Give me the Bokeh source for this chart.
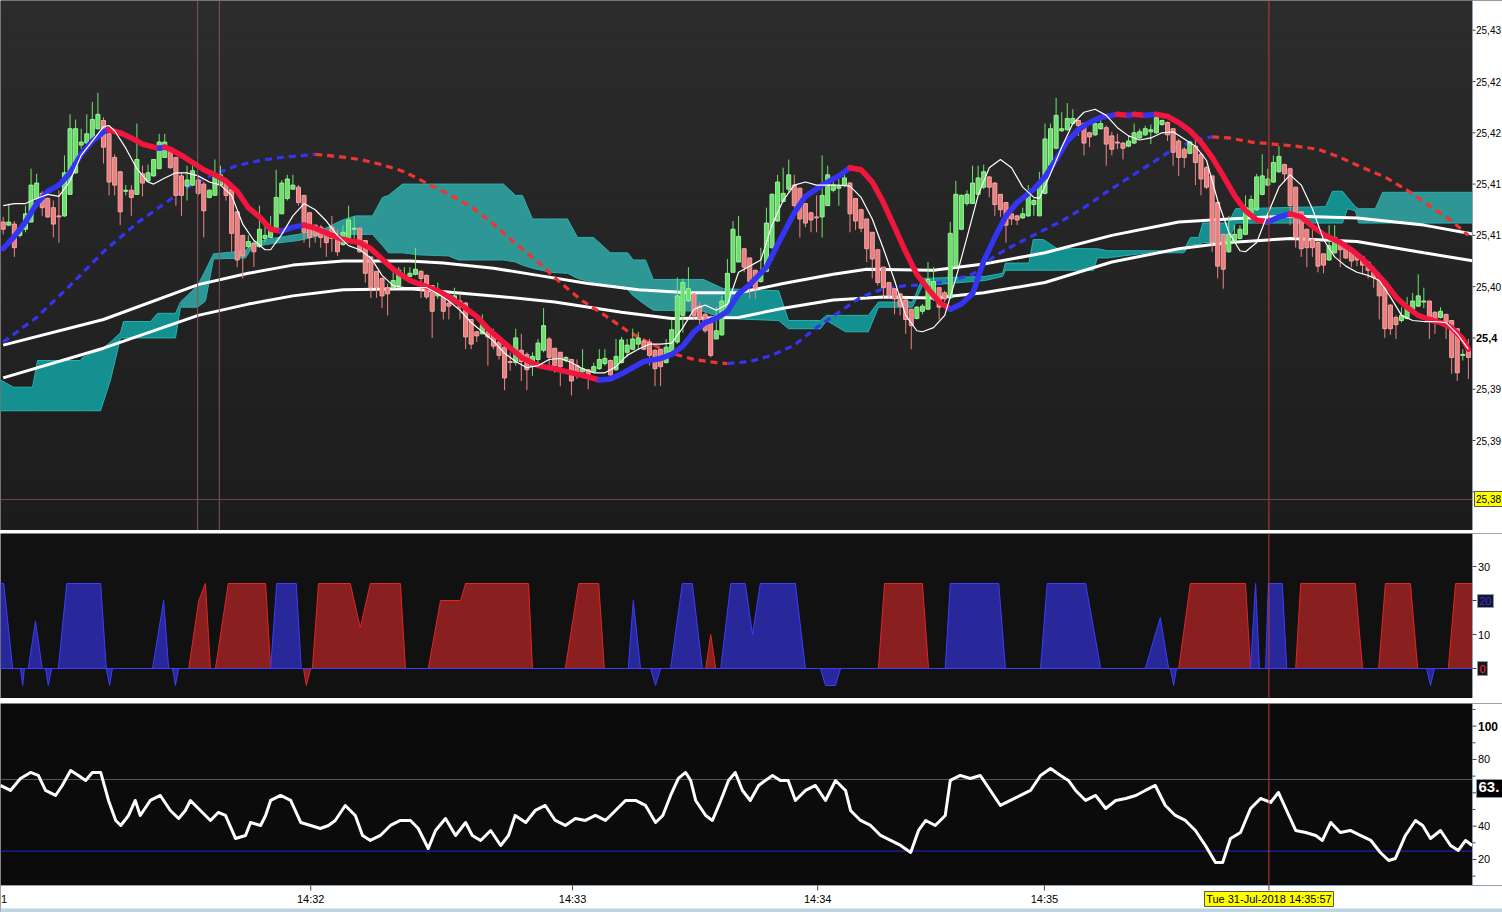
import numpy as np
from bokeh.plotting import figure
from bokeh.models import Range1d, BoxAnnotation
from bokeh.layouts import column
from bokeh.embed import file_html
from bokeh.resources import INLINE
from bokeh.core.properties import value

# ---------------- price bars (one per bar index) ----------------
bar_open = [
 25.4113, 25.4110, 25.4111, 25.4100, 25.4106, 25.4113, 25.4136, 25.4141, 25.4136, 25.4127,
 25.4119, 25.4119, 25.4140, 25.4161, 25.4188, 25.4190, 25.4191, 25.4204, 25.4212, 25.4199,
 25.4176, 25.4162, 25.4143, 25.4144, 25.4140, 25.4160, 25.4153, 25.4158, 25.4165, 25.4176,
 25.4183, 25.4176, 25.4158, 25.4148, 25.4149, 25.4154, 25.4150, 25.4137, 25.4139, 25.4149,
 25.4152, 25.4145, 25.4123, 25.4100, 25.4089, 25.4092, 25.4089, 25.4097, 25.4098, 25.4106,
 25.4121, 25.4136, 25.4145, 25.4147, 25.4139, 25.4122, 25.4110, 25.4108, 25.4100, 25.4108,
 25.4098, 25.4091, 25.4097, 25.4106, 25.4107, 25.4095, 25.4079, 25.4065, 25.4058, 25.4049,
 25.4049, 25.4051, 25.4059, 25.4060, 25.4062, 25.4065, 25.4061, 25.4051, 25.4041, 25.4044,
 25.4034, 25.4035, 25.4036, 25.4034, 25.4018, 25.4006, 25.4004, 25.4006, 25.4004, 25.3996,
 25.3991, 25.3977, 25.3976, 25.3988, 25.3984, 25.3973, 25.3979, 25.3988, 25.3999, 25.3990,
 25.3986, 25.3978, 25.3979, 25.3973, 25.3967, 25.3969, 25.3967, 25.3970, 25.3975, 25.3978,
 25.3969, 25.3976, 25.3986, 25.3989, 25.3994, 25.3997, 25.3996, 25.3988, 25.3989, 25.3976,
 25.3986, 25.3996, 25.4022, 25.4036, 25.4043, 25.4031, 25.4023, 25.4018, 25.3999, 25.4003,
 25.4029, 25.4064, 25.4074, 25.4087, 25.4078, 25.4066, 25.4055, 25.4065, 25.4088, 25.4114,
 25.4133, 25.4145, 25.4149, 25.4146, 25.4131, 25.4122, 25.4118, 25.4118, 25.4129, 25.4144,
 25.4146, 25.4149, 25.4151, 25.4136, 25.4125, 25.4116, 25.4103, 25.4086, 25.4069, 25.4054,
 25.4048, 25.4043, 25.4037, 25.4028, 25.4019, 25.4026, 25.4028, 25.4038, 25.4049, 25.4044,
 25.4039, 25.4070, 25.4106, 25.4131, 25.4131, 25.4140, 25.4147, 25.4157, 25.4151, 25.4140,
 25.4132, 25.4121, 25.4119, 25.4117, 25.4119, 25.4130, 25.4119, 25.4141, 25.4168, 25.4185,
 25.4202, 25.4203, 25.4209, 25.4212, 25.4209, 25.4200, 25.4198, 25.4204, 25.4205, 25.4197,
 25.4191, 25.4190, 25.4187, 25.4190, 25.4195, 25.4198, 25.4201, 25.4200, 25.4208, 25.4210,
 25.4204, 25.4192, 25.4184, 25.4180, 25.4187, 25.4179, 25.4166, 25.4158, 25.4132, 25.4101,
 25.4084, 25.4094, 25.4097, 25.4101, 25.4119, 25.4125, 25.4140, 25.4149, 25.4152, 25.4162,
 25.4169, 25.4165, 25.4147, 25.4123, 25.4106, 25.4096, 25.4093, 25.4082, 25.4076, 25.4083,
 25.4092, 25.4090, 25.4084, 25.4081, 25.4079, 25.4074, 25.4066, 25.4059, 25.4050, 25.4032,
 25.4020, 25.4017, 25.4019, 25.4028, 25.4031, 25.4035, 25.4036, 25.4025, 25.4020, 25.4023,
 25.4017, 25.4009, 25.3983, 25.3988]

bar_high = [
 25.4118, 25.4131, 25.4114, 25.4109, 25.4129, 25.4165, 25.4160, 25.4143, 25.4137, 25.4134,
 25.4144, 25.4178, 25.4218, 25.4213, 25.4204, 25.4218, 25.4230, 25.4239, 25.4215, 25.4204,
 25.4179, 25.4162, 25.4149, 25.4149, 25.4209, 25.4168, 25.4169, 25.4174, 25.4199, 25.4199,
 25.4186, 25.4176, 25.4161, 25.4168, 25.4168, 25.4158, 25.4152, 25.4145, 25.4174, 25.4168,
 25.4153, 25.4149, 25.4124, 25.4100, 25.4100, 25.4092, 25.4129, 25.4110, 25.4119, 25.4164,
 25.4154, 25.4159, 25.4159, 25.4149, 25.4139, 25.4123, 25.4110, 25.4110, 25.4106, 25.4119,
 25.4106, 25.4110, 25.4129, 25.4118, 25.4107, 25.4095, 25.4079, 25.4065, 25.4059, 25.4053,
 25.4064, 25.4069, 25.4069, 25.4069, 25.4088, 25.4066, 25.4062, 25.4051, 25.4054, 25.4044,
 25.4038, 25.4049, 25.4043, 25.4035, 25.4018, 25.4007, 25.4023, 25.4009, 25.4009, 25.3999,
 25.3992, 25.3986, 25.4009, 25.4004, 25.3986, 25.3986, 25.3999, 25.4029, 25.4001, 25.3990,
 25.3986, 25.3982, 25.3979, 25.3979, 25.3989, 25.3969, 25.3976, 25.3989, 25.3989, 25.3979,
 25.3999, 25.4001, 25.3999, 25.4009, 25.4006, 25.3999, 25.3999, 25.3989, 25.3989, 25.3999,
 25.4018, 25.4059, 25.4058, 25.4069, 25.4044, 25.4035, 25.4025, 25.4022, 25.4030, 25.4041,
 25.4077, 25.4114, 25.4119, 25.4087, 25.4078, 25.4066, 25.4088, 25.4127, 25.4141, 25.4159,
 25.4166, 25.4174, 25.4159, 25.4146, 25.4131, 25.4123, 25.4139, 25.4178, 25.4168, 25.4153,
 25.4155, 25.4160, 25.4152, 25.4136, 25.4126, 25.4116, 25.4103, 25.4087, 25.4069, 25.4054,
 25.4048, 25.4043, 25.4038, 25.4028, 25.4031, 25.4033, 25.4074, 25.4069, 25.4049, 25.4046,
 25.4113, 25.4153, 25.4140, 25.4144, 25.4168, 25.4168, 25.4169, 25.4158, 25.4152, 25.4140,
 25.4132, 25.4123, 25.4120, 25.4127, 25.4149, 25.4136, 25.4162, 25.4209, 25.4209, 25.4234,
 25.4220, 25.4229, 25.4223, 25.4213, 25.4210, 25.4201, 25.4210, 25.4213, 25.4207, 25.4201,
 25.4199, 25.4191, 25.4197, 25.4209, 25.4204, 25.4207, 25.4208, 25.4218, 25.4213, 25.4211,
 25.4204, 25.4194, 25.4186, 25.4192, 25.4194, 25.4181, 25.4168, 25.4158, 25.4133, 25.4101,
 25.4119, 25.4110, 25.4110, 25.4139, 25.4139, 25.4160, 25.4179, 25.4165, 25.4178, 25.4187,
 25.4170, 25.4166, 25.4147, 25.4123, 25.4106, 25.4106, 25.4093, 25.4082, 25.4110, 25.4110,
 25.4096, 25.4093, 25.4085, 25.4082, 25.4080, 25.4074, 25.4070, 25.4061, 25.4051, 25.4033,
 25.4022, 25.4030, 25.4040, 25.4044, 25.4062, 25.4049, 25.4036, 25.4026, 25.4030, 25.4023,
 25.4017, 25.4009, 25.3989, 25.3999]

bar_low = [
 25.4101, 25.4109, 25.4079, 25.4098, 25.4103, 25.4113, 25.4132, 25.4119, 25.4117, 25.4098,
 25.4093, 25.4118, 25.4140, 25.4160, 25.4184, 25.4188, 25.4191, 25.4203, 25.4170, 25.4139,
 25.4139, 25.4110, 25.4139, 25.4119, 25.4140, 25.4138, 25.4152, 25.4157, 25.4165, 25.4176,
 25.4165, 25.4129, 25.4119, 25.4134, 25.4148, 25.4139, 25.4098, 25.4136, 25.4139, 25.4149,
 25.4134, 25.4084, 25.4069, 25.4058, 25.4088, 25.4069, 25.4088, 25.4093, 25.4098, 25.4105,
 25.4121, 25.4134, 25.4145, 25.4129, 25.4093, 25.4088, 25.4093, 25.4088, 25.4079, 25.4084,
 25.4080, 25.4090, 25.4097, 25.4097, 25.4083, 25.4054, 25.4039, 25.4039, 25.4029, 25.4022,
 25.4048, 25.4049, 25.4058, 25.4059, 25.4061, 25.4039, 25.4038, 25.4000, 25.4038, 25.4018,
 25.4018, 25.4033, 25.4018, 25.3989, 25.3989, 25.3996, 25.4004, 25.3973, 25.3989, 25.3979,
 25.3949, 25.3968, 25.3973, 25.3958, 25.3949, 25.3963, 25.3973, 25.3986, 25.3973, 25.3966,
 25.3953, 25.3976, 25.3944, 25.3960, 25.3966, 25.3950, 25.3966, 25.3969, 25.3973, 25.3963,
 25.3968, 25.3975, 25.3981, 25.3988, 25.3989, 25.3988, 25.3973, 25.3953, 25.3953, 25.3975,
 25.3984, 25.3994, 25.4005, 25.4035, 25.4018, 25.4012, 25.4005, 25.3981, 25.3999, 25.4002,
 25.4028, 25.4064, 25.4074, 25.4064, 25.4038, 25.4038, 25.4054, 25.4064, 25.4087, 25.4113,
 25.4132, 25.4142, 25.4127, 25.4098, 25.4108, 25.4103, 25.4103, 25.4098, 25.4129, 25.4142,
 25.4129, 25.4147, 25.4103, 25.4105, 25.4103, 25.4074, 25.4058, 25.4051, 25.4038, 25.4038,
 25.4023, 25.4022, 25.4004, 25.3989, 25.4018, 25.4023, 25.4028, 25.4036, 25.4018, 25.4035,
 25.4038, 25.4069, 25.4105, 25.4129, 25.4131, 25.4140, 25.4145, 25.4137, 25.4119, 25.4118,
 25.4093, 25.4110, 25.4110, 25.4116, 25.4118, 25.4119, 25.4119, 25.4140, 25.4166, 25.4184,
 25.4201, 25.4202, 25.4208, 25.4197, 25.4178, 25.4186, 25.4197, 25.4203, 25.4168, 25.4178,
 25.4184, 25.4174, 25.4186, 25.4189, 25.4194, 25.4197, 25.4189, 25.4199, 25.4207, 25.4192,
 25.4168, 25.4158, 25.4166, 25.4179, 25.4149, 25.4139, 25.4145, 25.4084, 25.4058, 25.4048,
 25.4083, 25.4093, 25.4096, 25.4100, 25.4118, 25.4124, 25.4139, 25.4148, 25.4151, 25.4161,
 25.4152, 25.4110, 25.4088, 25.4079, 25.4069, 25.4079, 25.4064, 25.4063, 25.4075, 25.4082,
 25.4069, 25.4077, 25.4069, 25.4070, 25.4062, 25.4058, 25.4049, 25.4018, 25.4000, 25.4003,
 25.3999, 25.4015, 25.4018, 25.4027, 25.4030, 25.4029, 25.3999, 25.4004, 25.4019, 25.3999,
 25.3965, 25.3958, 25.3978, 25.3960]

bar_close = [
 25.4106, 25.4113, 25.4088, 25.4106, 25.4121, 25.4149, 25.4151, 25.4127, 25.4118, 25.4111,
 25.4118, 25.4161, 25.4204, 25.4204, 25.4191, 25.4199, 25.4213, 25.4218, 25.4186, 25.4152,
 25.4149, 25.4123, 25.4144, 25.4137, 25.4174, 25.4151, 25.4161, 25.4174, 25.4191, 25.4191,
 25.4166, 25.4139, 25.4139, 25.4154, 25.4163, 25.4141, 25.4124, 25.4144, 25.4157, 25.4159,
 25.4139, 25.4102, 25.4076, 25.4080, 25.4094, 25.4084, 25.4106, 25.4100, 25.4108, 25.4137,
 25.4151, 25.4155, 25.4149, 25.4132, 25.4103, 25.4098, 25.4100, 25.4098, 25.4093, 25.4097,
 25.4084, 25.4103, 25.4115, 25.4107, 25.4084, 25.4063, 25.4049, 25.4049, 25.4041, 25.4043,
 25.4056, 25.4066, 25.4061, 25.4063, 25.4067, 25.4058, 25.4040, 25.4026, 25.4045, 25.4026,
 25.4031, 25.4041, 25.4030, 25.4001, 25.3994, 25.4002, 25.4013, 25.4001, 25.3992, 25.3983,
 25.3961, 25.3976, 25.4000, 25.3977, 25.3969, 25.3982, 25.3995, 25.4012, 25.3981, 25.3973,
 25.3972, 25.3981, 25.3958, 25.3966, 25.3970, 25.3963, 25.3972, 25.3979, 25.3980, 25.3964,
 25.3982, 25.3998, 25.3993, 25.3999, 25.4000, 25.3989, 25.3983, 25.3970, 25.3972, 25.3991,
 25.4008, 25.4041, 25.4054, 25.4048, 25.4022, 25.4018, 25.4007, 25.3983, 25.4007, 25.4036,
 25.4063, 25.4106, 25.4099, 25.4069, 25.4055, 25.4048, 25.4062, 25.4112, 25.4140, 25.4152,
 25.4141, 25.4159, 25.4129, 25.4116, 25.4112, 25.4115, 25.4117, 25.4139, 25.4159, 25.4149,
 25.4148, 25.4156, 25.4121, 25.4114, 25.4107, 25.4087, 25.4077, 25.4054, 25.4049, 25.4041,
 25.4038, 25.4031, 25.4018, 25.4012, 25.4030, 25.4031, 25.4057, 25.4055, 25.4030, 25.4038,
 25.4102, 25.4140, 25.4139, 25.4140, 25.4151, 25.4156, 25.4162, 25.4147, 25.4130, 25.4125,
 25.4110, 25.4116, 25.4115, 25.4121, 25.4140, 25.4134, 25.4152, 25.4194, 25.4204, 25.4217,
 25.4204, 25.4214, 25.4214, 25.4207, 25.4190, 25.4196, 25.4209, 25.4209, 25.4189, 25.4184,
 25.4190, 25.4185, 25.4192, 25.4200, 25.4201, 25.4204, 25.4203, 25.4215, 25.4212, 25.4198,
 25.4181, 25.4176, 25.4176, 25.4191, 25.4171, 25.4155, 25.4147, 25.4093, 25.4070, 25.4067,
 25.4101, 25.4101, 25.4106, 25.4127, 25.4135, 25.4157, 25.4158, 25.4155, 25.4171, 25.4177,
 25.4160, 25.4129, 25.4098, 25.4087, 25.4088, 25.4088, 25.4070, 25.4071, 25.4090, 25.4098,
 25.4086, 25.4078, 25.4075, 25.4076, 25.4071, 25.4066, 25.4059, 25.4041, 25.4009, 25.4009,
 25.4013, 25.4022, 25.4031, 25.4036, 25.4041, 25.4036, 25.4017, 25.4017, 25.4026, 25.4015,
 25.3981, 25.3966, 25.3984, 25.3981]

# ---------------- indicator lines (bar index, value) ----------------
trend_k = [0, 2, 4, 6, 8, 10, 12, 14, 16, 18, 19, 21, 23, 25, 27, 28, 29, 30, 32, 34,
           36, 38, 40, 42, 44, 46, 48, 50, 52, 54, 56, 59, 61, 64, 66, 68, 70, 73, 75, 78,
           80, 82, 85, 87, 90, 93, 96, 99, 102, 105, 107, 109, 111, 113, 115, 118, 120, 122, 124, 126,
           128, 130, 132, 134, 137, 139, 142, 144, 147, 150, 152, 154, 156, 158, 160, 162, 164, 166, 168, 170,
           172, 174, 176, 178, 180, 182, 185, 187, 189, 191, 193, 195, 197, 199, 200, 202, 203, 205, 207, 209,
           211, 213, 215, 217, 219, 221, 223, 225, 227, 229, 231, 233, 235, 237, 240, 242, 244, 246, 248, 250,
           252, 254, 256, 258, 260, 262, 263]
trend_v = [25.4087, 25.4099, 25.4113, 25.4131, 25.4143, 25.4149, 25.4161, 25.4179, 25.4192, 25.4201,
           25.4203, 25.4200, 25.4195, 25.4189, 25.4186, 25.4185, 25.4186, 25.4184, 25.4178, 25.4171,
           25.4164, 25.4159, 25.4153, 25.4143, 25.4127, 25.4118, 25.4106, 25.4104, 25.4108, 25.4110,
           25.4107, 25.4100, 25.4096, 25.4093, 25.4087, 25.4077, 25.4067, 25.4056, 25.4052, 25.4046,
           25.4040, 25.4033, 25.4021, 25.4009, 25.3995, 25.3981, 25.3973, 25.3970, 25.3966, 25.3962,
           25.3959, 25.3960, 25.3965, 25.3971, 25.3977, 25.3980, 25.3984, 25.3992, 25.4006, 25.4015,
           25.4019, 25.4026, 25.4043, 25.4052, 25.4069, 25.4091, 25.4122, 25.4138, 25.4149, 25.4158,
           25.4166, 25.4164, 25.4152, 25.4132, 25.4108, 25.4084, 25.4062, 25.4048, 25.4035, 25.4028,
           25.4033, 25.4043, 25.4075, 25.4098, 25.4119, 25.4132, 25.4145, 25.4157, 25.4174, 25.4192,
           25.4203, 25.4210, 25.4215, 25.4217, 25.4218, 25.4217, 25.4218, 25.4217, 25.4218, 25.4216,
           25.4210, 25.4202, 25.4191, 25.4176, 25.4158, 25.4139, 25.4124, 25.4115, 25.4113, 25.4118,
           25.4121, 25.4118, 25.4109, 25.4101, 25.4093, 25.4086, 25.4077, 25.4066, 25.4054, 25.4040,
           25.4030, 25.4022, 25.4018, 25.4015, 25.4010, 25.3999, 25.3989]

fast_k = [0, 2, 4, 6, 8, 10, 12, 14, 16, 18, 19, 20, 22, 24, 26, 27, 29, 31, 33, 35,
          37, 39, 41, 43, 45, 47, 48, 50, 52, 54, 56, 58, 60, 62, 64, 66, 68, 70, 72, 74,
          76, 78, 80, 82, 84, 86, 88, 90, 92, 94, 96, 98, 100, 102, 104, 106, 108, 110, 112, 114,
          116, 118, 120, 122, 124, 126, 128, 130, 132, 134, 136, 138, 140, 142, 144, 146, 148, 150, 152, 154,
          156, 158, 160, 162, 164, 165, 167, 169, 171, 173, 175, 177, 179, 181, 183, 185, 186, 188, 190, 192,
          194, 196, 198, 200, 202, 204, 206, 208, 210, 212, 214, 216, 218, 220, 222, 223, 225, 227, 229, 231,
          233, 235, 237, 239, 241, 243, 245, 247, 249, 251, 253, 255, 257, 259, 261, 263]
fast_v = [25.4129, 25.4131, 25.4131, 25.4136, 25.4140, 25.4138, 25.4153, 25.4178, 25.4192, 25.4206,
          25.4207, 25.4202, 25.4185, 25.4165, 25.4152, 25.4150, 25.4156, 25.4161, 25.4161, 25.4158,
          25.4152, 25.4149, 25.4139, 25.4111, 25.4095, 25.4086, 25.4086, 25.4101, 25.4119, 25.4131,
          25.4125, 25.4114, 25.4100, 25.4090, 25.4086, 25.4078, 25.4061, 25.4051, 25.4049, 25.4049,
          25.4049, 25.4043, 25.4036, 25.4027, 25.4015, 25.4006, 25.3997, 25.3985, 25.3977, 25.3971,
          25.3973, 25.3979, 25.3980, 25.3976, 25.3970, 25.3966, 25.3966, 25.3972, 25.3983, 25.3989,
          25.3994, 25.3994, 25.3995, 25.4010, 25.4028, 25.4032, 25.4027, 25.4033, 25.4064, 25.4070,
          25.4076, 25.4110, 25.4134, 25.4149, 25.4152, 25.4149, 25.4149, 25.4149, 25.4148, 25.4137,
          25.4116, 25.4087, 25.4056, 25.4022, 25.4007, 25.4006, 25.4010, 25.4022, 25.4058, 25.4098,
          25.4139, 25.4166, 25.4174, 25.4166, 25.4147, 25.4137, 25.4136, 25.4160, 25.4186, 25.4209,
          25.4220, 25.4223, 25.4217, 25.4205, 25.4197, 25.4193, 25.4195, 25.4200, 25.4201, 25.4194,
          25.4187, 25.4173, 25.4134, 25.4103, 25.4085, 25.4084, 25.4093, 25.4121, 25.4147, 25.4159,
          25.4149, 25.4126, 25.4096, 25.4079, 25.4070, 25.4064, 25.4061, 25.4056, 25.4040, 25.4022,
          25.4017, 25.4016, 25.4016, 25.4015, 25.4004, 25.3989]

slow_k = [0, 6, 12, 18, 24, 30, 34, 38, 42, 46, 50, 54, 56, 60, 64, 68, 72, 76, 80, 84,
          88, 92, 96, 100, 104, 108, 112, 116, 120, 124, 128, 130, 134, 138, 142, 146, 150, 154, 158, 162,
          166, 170, 174, 178, 182, 186, 190, 194, 198, 202, 206, 210, 214, 217, 220, 224, 228, 232, 236, 240,
          244, 248, 252, 256, 260, 263]
slow_v = [25.3996, 25.4020, 25.4051, 25.4084, 25.4112, 25.4135, 25.4150, 25.4160, 25.4168, 25.4173,
          25.4176, 25.4178, 25.4179, 25.4177, 25.4174, 25.4169, 25.4162, 25.4151, 25.4140, 25.4128,
          25.4111, 25.4092, 25.4074, 25.4054, 25.4036, 25.4022, 25.4007, 25.3995, 25.3985, 25.3979,
          25.3976, 25.3975, 25.3977, 25.3983, 25.3993, 25.4010, 25.4025, 25.4040, 25.4048, 25.4051,
          25.4052, 25.4056, 25.4062, 25.4080, 25.4092, 25.4103, 25.4114, 25.4127, 25.4142, 25.4156,
          25.4170, 25.4184, 25.4193, 25.4196, 25.4195, 25.4191, 25.4189, 25.4187, 25.4184, 25.4176,
          25.4166, 25.4157, 25.4144, 25.4129, 25.4114, 25.4100]

band_up_k = [0, 18, 35, 44, 52, 61, 73, 79, 88, 96, 105, 114, 123, 132, 140, 149, 155, 167, 176, 187,
             199, 211, 220, 231, 243, 255, 264]
band_up_v = [25.3993, 25.4018, 25.4052, 25.4063, 25.4071, 25.4075, 25.4075, 25.4073, 25.4068, 25.4061,
             25.4053, 25.4047, 25.4044, 25.4044, 25.4053, 25.4062, 25.4067, 25.4066, 25.4072, 25.4083,
             25.4100, 25.4113, 25.4116, 25.4119, 25.4117, 25.4110, 25.4101]
band_lo_k = [0, 18, 35, 44, 52, 61, 73, 88, 99, 111, 120, 132, 140, 149, 158, 167, 176, 187, 199, 211,
             220, 231, 243, 255, 264]
band_lo_v = [25.3961, 25.3990, 25.4022, 25.4033, 25.4041, 25.4047, 25.4048, 25.4041, 25.4035, 25.4025,
             25.4019, 25.4020, 25.4029, 25.4037, 25.4040, 25.4039, 25.4044, 25.4054, 25.4074, 25.4087,
             25.4093, 25.4097, 25.4094, 25.4083, 25.4075]

# ---------------- cloud (bar index, upper, lower, shade) ----------------
cloud_k = [-0.5, 1.85, 5.26, 6.16, 13.87, 14.23, 17.47, 19.26, 21.05, 21.6,
           26.44, 27.7, 30.93, 31.82, 34.88, 36.31, 37.75, 43.49, 44.75, 48.34,
           53.0, 57.85, 60.9, 63.24, 66.29, 68.08, 69.16, 71.67, 74.54, 79.93,
           81.72, 89.8, 91.95, 93.2, 95.0, 98.23, 101.3, 103.1, 105.96, 109.0,
           112.1, 113.1, 115.3, 116.7, 125.7, 129.3, 139.2, 140.96, 146.7, 147.8,
           151.2, 155.3, 157.1, 163.2, 165.0, 176.3, 179.4, 179.9, 184.1, 184.9,
           186.7, 189.2, 195.7, 196.4, 198.2, 205.4, 211.9, 213.1, 214.6, 215.3,
           219.9, 221.2, 237.4, 238.6, 240.4, 241.3, 242.7, 243.3, 246.3, 247.6, 263.74]
cloud_hi = [25.3959, 25.3952, 25.3952, 25.3978, 25.3978, 25.3981, 25.3988, 25.3996, 25.4005, 25.4016,
            25.4016, 25.4024, 25.4024, 25.4035, 25.4051, 25.4066, 25.4082, 25.4085, 25.4093, 25.4097,
            25.4101, 25.4107, 25.4115, 25.4119, 25.4119, 25.4137, 25.4139, 25.4150, 25.4150, 25.4150,
            25.4150, 25.4150, 25.4139, 25.4139, 25.4116, 25.4116, 25.4116, 25.4098, 25.4098, 25.4083,
            25.4083, 25.4076, 25.4076, 25.4057, 25.4057, 25.4048, 25.4046, 25.4017, 25.4017, 25.4022,
            25.4022, 25.4022, 25.4035, 25.4035, 25.4058, 25.4060, 25.4063, 25.4073, 25.4073, 25.4096,
            25.4096, 25.4087, 25.4087, 25.4087, 25.4085, 25.4085, 25.4085, 25.4098, 25.4098, 25.4112,
            25.4112, 25.4126, 25.4128, 25.4143, 25.4143, 25.4137, 25.4128, 25.4126, 25.4126, 25.4142, 25.4142]
cloud_lo = [25.3929, 25.3929, 25.3929, 25.3929, 25.3929, 25.3929, 25.3929, 25.3959, 25.4000, 25.4000,
            25.4000, 25.4000, 25.4000, 25.4030, 25.4030, 25.4036, 25.4077, 25.4078, 25.4089, 25.4092,
            25.4095, 25.4101, 25.4101, 25.4101, 25.4101, 25.4090, 25.4083, 25.4083, 25.4081, 25.4080,
            25.4076, 25.4076, 25.4074, 25.4071, 25.4068, 25.4064, 25.4063, 25.4058, 25.4054, 25.4050,
            25.4047, 25.4041, 25.4032, 25.4027, 25.4026, 25.4019, 25.4017, 25.4009, 25.4009, 25.4017,
            25.4006, 25.4006, 25.4030, 25.4030, 25.4051, 25.4056, 25.4060, 25.4066, 25.4066, 25.4066,
            25.4066, 25.4066, 25.4066, 25.4078, 25.4078, 25.4083, 25.4083, 25.4091, 25.4091, 25.4093,
            25.4093, 25.4112, 25.4112, 25.4112, 25.4112, 25.4126, 25.4124, 25.4112, 25.4112, 25.4112, 25.4112]
cloud_shade = [0, 0, 0, 0, 0, 0, 0, 0, 0, 0,
               0, 0, 0, 1, 1, 1, 1, 1, 1, 1,
               1, 1, 1, 1, 1, 1, 1, 1, 1, 1,
               1, 1, 1, 1, 1, 1, 1, 1, 1, 1,
               1, 1, 1, 1, 1, 0, 0, 0, 0, 0,
               0, 0, 0, 0, 0, 0, 0, 0, 0, 0,
               0, 0, 0, 0, 0, 0, 0, 0, 0, 0,
               0, 0, 0, 0, 0, 0, 1, 1, 1, 1, 1]

# ---------------- oscillator panel ----------------
osc_blue_k = [-0.5, 0.1, 1.7, 3.1, 3.5, 3.8, 4.5, 5.8, 7.0, 7.6, 8.1, 8.7, 9.9, 11.4, 17.5, 18.5,
              19.1, 19.6, 26.8, 28.8, 29.7, 30.4, 30.9, 31.5, 48.0, 49.1, 52.6, 53.5, 112.2, 113.1, 114.4,
              116.2, 117.1, 118.0, 119.8, 121.9, 123.7, 125.5, 128.8, 130.6, 133.2, 134.5, 135.9, 142.2, 144.0,
              146.7, 147.6, 149.4, 150.3, 169.1, 170.0, 178.7, 179.9, 186.2, 187.4, 194.3, 197.0, 205.0, 207.7,
              209.2, 209.5, 210.1, 210.6, 223.9, 224.8, 225.5, 226.6, 227.1, 229.6, 230.4, 255.5, 256.2, 256.9, 263.74]
osc_blue_v = [25, 25, 0, 0, -5, 0, 0, 14, 0, 0, -5, 0, 0, 25, 25, 0,
              -5, 0, 0, 20, 0, 0, -5, 0, 0, 25, 25, 0, 0, 20, 0,
              0, -5, 0, 0, 25, 25, 0, 0, 25, 25, 10, 25, 25, 0,
              0, -5, -5, 0, 0, 25, 25, 0, 0, 25, 25, 0, 0, 15,
              0, 0, -5, 0, 0, 25, 0, 0, 25, 25, 0, 0, -5, 0, 0]
osc_red_k = [-0.5, 33.3, 35.1, 36.3, 37.2, 38.1, 40.4, 47.1, 48.0, 53.9, 54.4, 55.2, 55.5, 56.6, 62.3,
             64.1, 65.9, 71.3, 72.2, 76.3, 78.5, 82.1, 83.0, 94.3, 95.0, 100.9, 103.3, 106.9, 107.9,
             126.1, 127.0, 127.9, 157.1, 158.2, 165.0, 166.1, 211.0, 213.1, 223.0, 223.9, 232.0, 232.9,
             242.7, 244.0, 246.9, 248.1, 252.6, 253.9, 259.4, 260.7, 263.74]
osc_red_v = [0, 0, 20, 25, 0, 0, 25, 25, 0, 0, -5, 0, 0, 25, 25,
             12, 25, 25, 0, 0, 20, 20, 25, 25, 0, 0, 25, 25, 0,
             0, 10, 0, 0, 25, 25, 0, 0, 25, 25, 0, 0, 25,
             25, 0, 0, 25, 25, 0, 0, 25, 25]

# ---------------- lower panel line ----------------
rsi_k = [-0.5, 1.3, 3.1, 4.9, 6.3, 7.6, 9.4, 10.6, 12.1, 13.5,
         14.8, 16.0, 17.5, 18.9, 20.2, 21.1, 22.5, 23.7, 24.6, 26.4,
         28.2, 30.0, 31.5, 32.7, 33.6, 35.4, 37.2, 38.6, 39.9, 41.7,
         43.5, 44.4, 46.2, 47.1, 48.0, 49.8, 51.6, 53.4, 55.2, 56.9,
         58.4, 59.6, 61.4, 63.2, 64.5, 65.9, 67.7, 69.5, 71.3, 73.1,
         74.5, 76.3, 77.6, 79.4, 81.2, 83.0, 84.2, 85.7, 87.5, 89.3,
         90.7, 91.9, 93.8, 95.5, 97.3, 99.1, 100.9, 102.7, 104.5, 106.3,
         108.1, 109.9, 111.7, 113.5, 115.3, 117.1, 118.4, 119.8, 121.2, 122.5,
         123.4, 124.3, 126.1, 127.3, 128.8, 130.2, 131.4, 132.7, 134.1, 135.6,
         136.8, 138.1, 139.5, 140.9, 142.2, 144.0, 145.8, 147.6, 149.4, 151.2,
         152.1, 153.9, 155.7, 157.5, 159.3, 161.1, 162.9, 164.3, 165.6, 167.3,
         169.1, 170.0, 171.8, 173.6, 175.4, 177.2, 179.0, 180.8, 182.6, 184.4,
         186.2, 188.0, 189.8, 191.2, 192.5, 194.3, 196.1, 197.9, 199.7, 201.5,
         203.3, 205.0, 206.8, 208.6, 210.4, 212.2, 214.0, 215.8, 217.6, 218.9,
         220.3, 222.1, 223.9, 225.7, 227.5, 228.9, 230.2, 232.0, 233.8, 235.6,
         236.8, 238.3, 240.0, 241.8, 243.6, 245.5, 247.2, 248.7, 249.9, 251.7,
         253.5, 254.8, 256.2, 258.0, 259.8, 261.2, 262.5, 263.7]
rsi_v = [64.4, 61.4, 68.6, 72.2, 70.4, 61.4, 58.4, 64.4, 73.4, 70.4,
         67.4, 72.2, 72.2, 55.4, 43.4, 40.4, 46.4, 55.4, 46.4, 55.4,
         58.4, 49.4, 44.6, 49.4, 55.4, 49.4, 43.4, 48.2, 46.4, 32.6,
         34.4, 42.2, 40.4, 46.4, 55.4, 58.4, 55.4, 42.2, 40.4, 38.6,
         40.4, 43.4, 52.4, 46.4, 34.4, 31.4, 34.4, 40.4, 43.4, 43.4,
         38.6, 26.6, 37.4, 44.6, 34.4, 42.2, 34.4, 31.4, 37.4, 28.4,
         34.4, 46.4, 42.2, 49.4, 52.4, 43.4, 40.4, 44.6, 43.4, 46.4,
         43.4, 49.4, 55.4, 55.4, 52.4, 42.2, 46.4, 58.4, 68.6, 72.2,
         67.4, 55.4, 46.4, 43.4, 55.4, 67.4, 72.2, 61.4, 55.4, 64.4,
         67.4, 70.4, 67.4, 67.4, 55.4, 61.4, 64.4, 55.4, 67.4, 61.4,
         49.4, 43.4, 40.4, 34.4, 31.4, 28.4, 24.2, 37.4, 43.4, 40.4,
         46.4, 67.4, 70.4, 68.6, 70.4, 61.4, 52.4, 55.4, 58.4, 61.4,
         70.4, 74.6, 70.4, 67.4, 61.4, 55.4, 58.4, 50.6, 55.4, 56.6,
         58.4, 61.4, 64.4, 52.4, 46.4, 43.4, 37.4, 28.4, 18.2, 18.2,
         32.6, 36.2, 50.6, 56.6, 54.2, 60.2, 50.6, 37.4, 36.2, 34.4,
         31.4, 42.2, 36.2, 37.4, 34.4, 31.4, 24.2, 19.4, 20.6, 34.4,
         43.4, 40.4, 32.6, 37.4, 28.4, 25.4, 31.4, 28.4]

# ---------------- axes / reference values ----------------
price_ticks = [25.385, 25.39, 25.395, 25.40, 25.405, 25.41, 25.415, 25.42, 25.425, 25.43]
price_tick_text = ["", "25,39", "25,39", "25,4", "25,40", "25,41", "25,41", "25,42", "25,42", "25,43"]
price_tick_bold = [False, False, False, True, False, False, False, False, False, False]
price_line = 25.38425
price_line_text = "25,38"
osc_ticks = [30, 20, 10, 0]
osc_tick_text = ["30", "20", "10", "0"]
rsi_ticks = [100, 80, 60, 40, 20]
rsi_tick_text = ["100", "80", "", "40", "20"]
rsi_minor = [110, 90, 70, 50, 30, 10]
rsi_upper_level = 68
rsi_lower_level = 25
rsi_readout_y = 63.4
rsi_readout_text = "63."
time_ticks = [55.2, 102.2, 146.2, 186.9, 227.2]
time_text = ["14:32", "14:33", "14:34", "14:35", ""]
left_time_text = "1"
cursor_k = 227.2
cursor_text = "Tue 31-Jul-2018 14:35:57"
marker_k = [34.9, 38.8]

# ---------------- layout (pixels) ----------------
FONT = "Liberation Sans"
W = 1502
PLOT_W = 1472
PPU = 5.571                     # pixels per bar
X0 = -0.485
XP = X0 + PLOT_W / PPU          # right edge of plotting area
XE = X0 + W / PPU               # right edge of canvas
EDGE = "#8ea3b6"
BLUE = "#3434f2"
RED = "#f2163e"
x_range = Range1d(X0, XE)


def px(dx):
    return dx / PPU


def main_y(py):                 # page pixel -> price
    return 25.4329 - py * 0.0000975


def mid_y(py):
    return (668.0 - py) / 3.4


def low_y(py):
    return (892.3 - py) * 0.6


def make_fig(h, y0, y1, top_b, bg):
    p = figure(frame_width=W, frame_height=h, x_range=x_range, y_range=Range1d(y0, y1),
               output_backend="svg", toolbar_location=None, x_axis_location=None,
               y_axis_location=None, min_border_left=0, min_border_right=0,
               min_border_top=top_b, min_border_bottom=0, background_fill_color=bg,
               border_fill_color="white", outline_line_color=None)
    p.grid.visible = False
    return p


def txt(p, x, y, s, size="11px", color="#111111", bold=False, align="left"):
    p.text(x=[x], y=[y], text=[s], text_font=value(FONT), text_font_size=value(size),
           text_font_style=value("bold" if bold else "normal"), text_color=color,
           text_align=value(align), text_baseline=value("middle"))


def right_axis(p, ylo, yhi, ticks, labels, bolds=None, size="11px", bold_size="12px",
               tick_len=4, gap=5.5):
    p.quad(left=[XP], right=[XE], bottom=[ylo], top=[yhi], fill_color="white", line_color=None)
    p.segment(x0=[XP], y0=[ylo], x1=[XP], y1=[yhi], line_color=EDGE, line_width=1)
    p.segment(x0=[XP] * len(ticks), y0=ticks, x1=[XP + px(tick_len)] * len(ticks), y1=ticks,
              line_color="#444444", line_width=1)
    for i, (t, s) in enumerate(zip(ticks, labels)):
        if s:
            b = bolds[i] if bolds else False
            txt(p, XP + px(gap), t, s, size=bold_size if b else size, bold=b, color="#000000")


def runs_by_direction(xs, ys):
    out = []
    cx, cy, cd = [xs[0]], [ys[0]], None
    for i in range(1, len(xs)):
        d = ys[i] >= ys[i - 1]
        if cd is None or d == cd:
            cx.append(xs[i]); cy.append(ys[i]); cd = d
        else:
            out.append((cd, cx, cy))
            cx, cy, cd = [xs[i - 1], xs[i]], [ys[i - 1], ys[i]], d
    out.append((cd, cx, cy))
    return out


# ================= main price panel (page y 0..530) =================
y_lo, y_hi = main_y(530), main_y(0)
pm = make_fig(530, y_lo, y_hi, 0, "#222222")
nb = 30
for i in range(nb):
    t = i / (nb - 1)
    g = int(round(44 - 16 * t))
    col = "#%02x%02x%02x" % (g, g, g)
    top = y_hi - (y_hi - y_lo) * i / nb
    bot = y_hi - (y_hi - y_lo) * (i + 1) / nb
    pm.add_layout(BoxAnnotation(top=top, bottom=bot, fill_color=col, fill_alpha=1.0,
                                line_alpha=0, level="underlay"))

# cloud
ck = np.array(cloud_k); ch = np.array(cloud_hi); cl = np.array(cloud_lo); cs = list(cloud_shade)
start = 0
for i in range(1, len(cs) + 1):
    if i == len(cs) or cs[i] != cs[start]:
        end = min(i, len(cs) - 1)
        sl = slice(start, end + 1)
        color = "#13908f" if cs[start] == 0 else "#2f9696"
        pm.varea(x=ck[sl], y1=cl[sl], y2=ch[sl], fill_color=color, fill_alpha=1.0)
        start = i
pm.line(ck, ch, line_color="#2bb0ae", line_width=1)
pm.line(ck, cl, line_color="#2bb0ae", line_width=1)

pm.line(band_up_k, band_up_v, line_color="white", line_width=3)
pm.line(band_lo_k, band_lo_v, line_color="white", line_width=3)

for up, xs, ys in runs_by_direction(slow_k, slow_v):
    pm.line(xs, ys, line_color=BLUE if up else "#f03434", line_width=3.2, line_dash="7 5")

n = min(len(bar_open), len(bar_high), len(bar_low), len(bar_close))
o = np.array(bar_open[:n]); h = np.array(bar_high[:n])
l = np.array(bar_low[:n]); c = np.array(bar_close[:n])
idx = np.arange(n)
up = c >= o
pm.segment(x0=idx, y0=l, x1=idx, y1=h,
           line_color=list(np.where(up, "#6fe36f", "#f08484")), line_width=1)
pm.vbar(x=idx, width=0.72, top=np.maximum(o, c), bottom=np.minimum(o, c),
        fill_color=list(np.where(up, "#69e069", "#ee7d7d")),
        line_color=list(np.where(up, "#9cf39c", "#f5a6a6")), line_width=1)

for upd, xs, ys in runs_by_direction(trend_k, trend_v):
    pm.line(xs, ys, line_color=BLUE if upd else RED, line_width=5.5,
            line_join="round", line_cap="round")

pm.line(fast_k, fast_v, line_color="white", line_width=1.2)

pm.segment(x0=marker_k, y0=[y_lo] * len(marker_k), x1=marker_k, y1=[y_hi] * len(marker_k),
           line_color="#8a5454", line_width=1)
pm.segment(x0=[cursor_k], y0=[y_lo], x1=[cursor_k], y1=[y_hi], line_color="#c23a3a", line_width=1)
pm.segment(x0=[X0], y0=[price_line], x1=[XP], y1=[price_line], line_color="#6e4c4c", line_width=1)

right_axis(pm, y_lo, y_hi, price_ticks, price_tick_text, price_tick_bold,
           size="10px", bold_size="11px", tick_len=3, gap=3.5)
pm.quad(left=[X0 + px(1474)], right=[XE], bottom=[main_y(506)], top=[main_y(491)],
        fill_color="#ffff00", line_color="#555555")
txt(pm, X0 + px(1475.5), price_line, price_line_text, size="10px", color="#000000")

# ================= oscillator panel (page y 533..698) =================
m_lo, m_hi = mid_y(698), mid_y(533)
po = make_fig(165, m_lo, m_hi, 3, "#111111")
po.varea(x=osc_red_k, y1=0, y2=osc_red_v, fill_color="#8a1f1f", fill_alpha=1.0)
po.line(osc_red_k, osc_red_v, line_color="#e02626", line_width=1)
po.varea(x=osc_blue_k, y1=0, y2=osc_blue_v, fill_color="#28289a", fill_alpha=1.0)
po.line(osc_blue_k, osc_blue_v, line_color="#3c3cff", line_width=1)
po.segment(x0=[X0], y0=[0], x1=[XP], y1=[0], line_color="#3c3cff", line_width=1)
po.segment(x0=[cursor_k], y0=[m_lo], x1=[cursor_k], y1=[m_hi], line_color="#c23a3a", line_width=1)
right_axis(po, m_lo, m_hi, osc_ticks, ["30", "", "10", ""])
po.quad(left=[X0 + px(1477)], right=[X0 + px(1493)], bottom=[mid_y(607)], top=[mid_y(594)],
        fill_color="#181818", line_color="#8899aa")
txt(po, X0 + px(1479), 20, osc_tick_text[1], color="#2a2aff")
po.quad(left=[X0 + px(1477)], right=[X0 + px(1487)], bottom=[mid_y(675)], top=[mid_y(661)],
        fill_color="#181818", line_color="#8899aa")
txt(po, X0 + px(1479), 0, osc_tick_text[3], color="#ff2a2a")

# ================= lower panel + time axis (page y 703..912) =================
l_lo, l_hi = low_y(912), low_y(703)
plot_bottom = low_y(885)
pl = make_fig(209, l_lo, l_hi, 5, "#0b0b0b")
pl.segment(x0=[X0, X0], y0=[rsi_upper_level, rsi_lower_level], x1=[XP, XP],
           y1=[rsi_upper_level, rsi_lower_level], line_color=["#55556e", "#2626d0"], line_width=1)
pl.line(rsi_k, rsi_v, line_color="white", line_width=3, line_join="round")
pl.segment(x0=[cursor_k], y0=[plot_bottom], x1=[cursor_k], y1=[l_hi], line_color="#c23a3a", line_width=1)
right_axis(pl, plot_bottom, l_hi, rsi_ticks, rsi_tick_text, [True, False, False, False, False])
pl.segment(x0=[XP] * len(rsi_minor), y0=rsi_minor, x1=[XP + px(3)] * len(rsi_minor), y1=rsi_minor,
           line_color="#444444", line_width=1)
pl.quad(left=[X0 + px(1476)], right=[XE], bottom=[low_y(797)], top=[low_y(779)],
        fill_color="#000000", line_color="#8899aa")
txt(pl, X0 + px(1478), rsi_readout_y, rsi_readout_text, size="15px", color="white", bold=True)

# time axis area
pl.quad(left=[X0], right=[XE], bottom=[l_lo], top=[plot_bottom], fill_color="white", line_color=None)
pl.quad(left=[X0], right=[XE], bottom=[l_lo], top=[low_y(908)], fill_color="#bcd5e1", line_color=None)
pl.segment(x0=[X0], y0=[plot_bottom], x1=[XE], y1=[plot_bottom], line_color=EDGE, line_width=1)
pl.segment(x0=time_ticks, y0=[plot_bottom] * len(time_ticks), x1=time_ticks,
           y1=[low_y(890)] * len(time_ticks), line_color="#444444", line_width=1)
for t, s in zip(time_ticks, time_text):
    if s:
        txt(pl, t, low_y(898), s, align="center", color="#000000")
txt(pl, X0 + px(0.5), low_y(898), left_time_text, align="left", color="#000000")
pl.quad(left=[X0 + px(1204)], right=[X0 + px(1333)], bottom=[low_y(906)], top=[low_y(891)],
        fill_color="#ffff00", line_color="#555555")
txt(pl, cursor_k, low_y(898.5), cursor_text, align="center", color="#000000")

layout = column(pm, po, pl, spacing=0)
open("out.html", "w").write(file_html(layout, INLINE, title="chart"))
